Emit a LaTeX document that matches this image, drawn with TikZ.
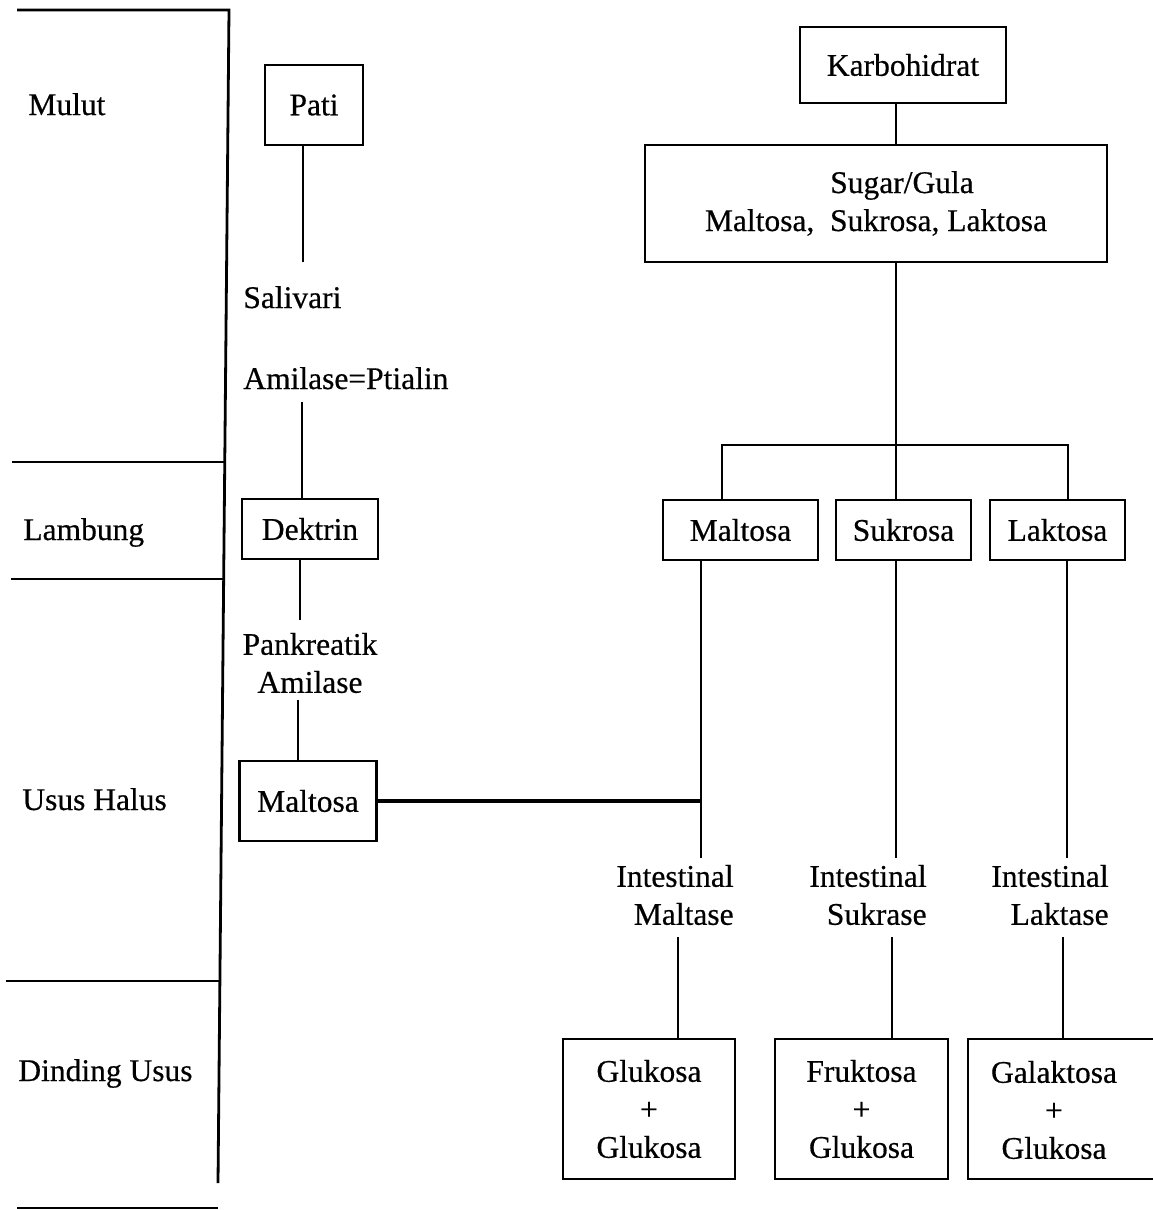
\documentclass[tikz,border=0pt]{standalone}
\usepackage{fontspec}
\setmainfont[AutoFakeBold=0.5]{Liberation Serif}
\begin{document}
\begin{tikzpicture}[x=1pt,y=-1pt,line width=2.8pt,
  every node/.style={font=\fontsize{31.5}{38}\selectfont\bfseries, inner sep=0pt},
  box/.style={draw, rectangle, align=center, line width=2.8pt},
  lbl/.style={anchor=base west},
  thickcon/.style={line width=4.5pt}]
\useasboundingbox (0,0) rectangle (1153,1210);

% zone frame
\coordinate (vt) at (229,10);
\coordinate (vb) at (218,1183);
\draw (17,10) -- (vt) -- (vb);
\draw (12,462) -- (225,462);
\draw (11,579) -- (224,579);
\draw (6,981) -- (220,981);
\draw (17,1208) -- (218,1208);

% zone labels
\node[lbl] (mulut) at (27,115) {Mulut};
\node[lbl] (lambung) at (22,540) {Lambung};
\node[lbl] (usus) at (21,810) {Usus Halus};
\node[lbl] (dinding) at (17,1081) {Dinding Usus};

% left column
\node[box, minimum width=98, minimum height=80] (pati) at (314,105) {Pati};
\coordinate (pl) at (303,262);
\draw (pati.south -| pl) -- (pl);
\node[lbl] (saliv) at (242,308) {Salivari};
\node[lbl] (amil) at (242,389) {Amilase=Ptialin};
\node[box, minimum width=136, minimum height=60] (dek) at (310,529) {Dektrin};
\coordinate (a1) at (302,402);
\draw (a1) -- (a1 |- dek.north);
\coordinate (d1) at (300,620);
\draw (d1 |- dek.south) -- (d1);
\node[align=center] (pank) at (310,663) {Pankreatik\\Amilase};
\coordinate (p1) at (298,700);
\node[box, minimum width=137, minimum height=80] (malL) at (308,801) {Maltosa};
\draw (p1) -- (p1 |- malL.north);

% right column
\node[box, minimum width=206, minimum height=76] (karbo) at (903,65) {Karbohidrat};
\node[box, minimum width=462, minimum height=117] (sugar) at (876,203.5)
  {\hspace*{52pt}Sugar/Gula\\Maltosa,\ \ Sukrosa, Laktosa};
\coordinate (trunk) at (896,445);
\draw (trunk |- karbo.south) -- (trunk |- sugar.north);
\draw (trunk |- sugar.south) -- (trunk);

\node[box, minimum width=155, minimum height=60] (malR) at (740.5,530) {Maltosa};
\node[box, minimum width=135, minimum height=60] (suk) at (903.5,530) {Sukrosa};
\node[box, minimum width=135, minimum height=60] (lak) at (1057.5,530) {Laktosa};
\coordinate (bl) at (722,445);
\coordinate (br) at (1068,445);
\draw (bl |- malR.north) -- (bl) -- (br) -- (br |- lak.north);
\draw (trunk) -- (trunk |- suk.north);

\coordinate (m1) at (701,858);
\coordinate (s1) at (896,858);
\coordinate (l1) at (1067,858);
\draw (m1 |- malR.south) -- (m1);
\draw (s1 |- suk.south) -- (s1);
\draw (l1 |- lak.south) -- (l1);
\draw[thickcon] (malL.east) -- (malL.east -| m1);

\node[align=right, anchor=east] (im) at (735,895) {Intestinal\\Maltase};
\node[align=right, anchor=east] (is) at (928,895) {Intestinal\\Sukrase};
\node[align=right, anchor=east] (il) at (1110,895) {Intestinal\\Laktase};

\node[box, minimum width=172, minimum height=140] (g1) at (649,1109) {Glukosa\\+\\Glukosa};
\node[box, minimum width=173, minimum height=140] (g2) at (861.5,1109) {Fruktosa\\+\\Glukosa};
\node[box, minimum width=192, minimum height=140] (g3) at (1064,1109) {};
\node[align=center] (g3t) at (1054,1110) {Galaktosa\\+\\Glukosa};

\coordinate (m2) at (678,937);
\coordinate (s2) at (892,937);
\coordinate (l2) at (1063,937);
\draw (m2) -- (m2 |- g1.north);
\draw (s2) -- (s2 |- g2.north);
\draw (l2) -- (l2 |- g3.north);
\end{tikzpicture}
\end{document}
